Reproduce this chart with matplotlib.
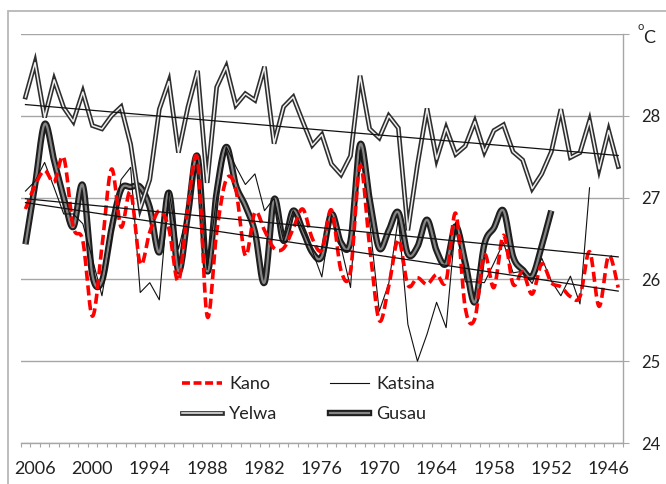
import numpy as np
import matplotlib
matplotlib.use('Agg')
import matplotlib.pyplot as plt
from matplotlib.lines import Line2D
from matplotlib.patches import Rectangle
from matplotlib.legend_handler import HandlerTuple

# years run from 2007 (left) back to 1945 (right)
years = list(range(2007, 1944, -1))
label_years = [2006, 2000, 1994, 1988, 1982, 1976, 1970, 1964, 1958, 1952, 1946]
y_ticks = [24, 25, 26, 27, 28, 29]
y_labels = ['24', '25', '26', '27', '28', '']

kano = [26.86, 27.15, 27.33, 27.19, 27.49, 26.64, 26.47, 25.55, 26.40, 27.35,
        26.64, 27.07, 26.19, 26.58, 26.84, 26.62, 25.98, 26.90, 27.46, 25.55,
        26.58, 27.22, 27.10, 26.29, 26.82, 26.60, 26.38, 26.38, 26.62, 26.86,
        26.50, 26.36, 26.85, 26.11, 26.10, 27.39, 26.40, 25.50, 25.92, 26.49,
        25.93, 26.02, 25.94, 26.06, 25.98, 26.81, 25.65, 25.52, 26.30, 25.90,
        26.54, 25.94, 26.09, 25.82, 26.19, 25.96, 25.91, 25.79, 25.79, 26.34,
        25.67, 26.29, 25.90]

# Katsina stops in 1948
katsina = [27.08, 27.20, 27.43, 27.12, 26.80, 26.80, 26.68, 26.25, 25.80, 26.50,
           27.22, 27.37, 25.84, 25.96, 25.75, 27.09, 26.37, 26.85, 27.48, 26.12,
           27.00, 27.62, 27.38, 27.16, 27.29, 26.84, 26.99, 26.47, 26.84, 26.62,
           26.35, 26.03, 26.80, 26.40, 25.90, 27.58, 26.70, 25.61, 25.95, 26.75,
           25.45, 25.00, 25.33, 25.72, 25.41, 26.70, 25.97, 25.97, 25.96, 26.20,
           26.45, 26.08, 26.10, 25.95, 26.26, 25.98, 25.80, 26.04, 25.70, 27.12]

yelwa = [28.23, 28.65, 27.98, 28.44, 28.10, 27.93, 28.29, 27.88, 27.84, 28.00,
         28.11, 27.65, 26.87, 27.22, 28.08, 28.42, 27.55, 28.11, 28.55, 27.18,
         28.35, 28.60, 28.13, 28.27, 28.19, 28.60, 27.66, 28.11, 28.23, 27.93,
         27.64, 27.77, 27.41, 27.28, 27.51, 28.49, 27.84, 27.73, 28.00, 27.85,
         26.60, 27.40, 28.09, 27.47, 27.85, 27.53, 27.63, 27.93, 27.56, 27.82,
         27.89, 27.56, 27.46, 27.11, 27.29, 27.56, 28.08, 27.49, 27.55, 27.94,
         27.35, 27.82, 27.38]

# Gusau stops in 1952
gusau = [26.43, 27.15, 27.90, 27.45, 27.00, 26.64, 27.15, 26.05, 25.98, 26.62,
         27.10, 27.13, 27.13, 26.88, 26.33, 27.06, 26.10, 26.80, 27.50, 26.10,
         27.07, 27.62, 27.15, 26.90, 26.58, 25.96, 26.98, 26.47, 26.84, 26.60,
         26.33, 26.28, 26.80, 26.45, 26.47, 27.65, 26.98, 26.38, 26.60, 26.82,
         26.31, 26.40, 26.73, 26.35, 26.19, 26.65, 26.21, 25.72, 26.43, 26.63,
         26.84, 26.28, 26.12, 26.04, 26.41, 26.84]


def smooth(x, y, n=14):
    # bezier smoothing through every point, like a spreadsheet "smoothed line"
    x = np.asarray(x, float)
    y = np.asarray(y, float)
    px = np.concatenate([[x[0]], x, [x[-1]]])
    py = np.concatenate([[y[0]], y, [y[-1]]])
    t = np.linspace(0, 1, n, endpoint=False)[None, :]
    out_x, out_y = [], []
    for p, out in ((px, out_x), (py, out_y)):
        p0, p1, p2, p3 = p[:-3, None], p[1:-2, None], p[2:-1, None], p[3:, None]
        c1 = p1 + (p2 - p0) / 6
        c2 = p2 - (p3 - p1) / 6
        b = ((1 - t) ** 3 * p1 + 3 * (1 - t) ** 2 * t * c1
             + 3 * (1 - t) * t ** 2 * c2 + t ** 3 * p2)
        out.append(np.append(b.ravel(), p[-2]))
    return out_x[0], out_y[0]


def trend(x, y):
    k, b = np.polyfit(x, y, 1)
    xs = np.array([years[0], years[-1]], float)
    return xs, k * xs + b


plt.rcParams['font.family'] = ['Lato', 'DejaVu Sans']
GRID = '#a6a6a6'
TXT = '#222222'

fig = plt.figure(figsize=(6.66, 4.84), dpi=100)
W, H = 666, 484
ax = fig.add_axes([20.7 / W, 1 - 443 / H, (623 - 20.7) / W, (443 - 34) / H])

# chart area frame
fig.add_artist(Rectangle((8 / W, -0.1), 1.2, 1.1 - 11 / H, transform=fig.transFigure,
                         fill=False, edgecolor='#b8b8b8', lw=1.3, clip_on=False))

ax.set_xlim(2007.5, 1944.5)
ax.set_ylim(24, 29)

for v in y_ticks:
    ax.axhline(v, color=GRID, lw=1.0, zorder=1)

yr_g = years[:len(gusau)]
yr_k = years[:len(katsina)]

gx, gy = smooth(yr_g, gusau)
ax.plot(gx, gy, color='#1e1e1e', lw=4.6, solid_capstyle='butt', zorder=2)
ax.plot(gx, gy, color='#858585', lw=1.6, solid_capstyle='butt', zorder=2.05)

ax.plot(years, yelwa, color='#2e2e2e', lw=3.4, solid_joinstyle='miter', zorder=2.1)
ax.plot(years, yelwa, color='#f0f0f0', lw=1.1, zorder=2.15)

ax.plot(yr_k, katsina, color='#111111', lw=0.8, zorder=2.2)

kx, ky = smooth(years, kano)
ax.plot(kx, ky, color='#ff0000', lw=2.6, dashes=(2.8, 1.3), zorder=2.3)

for yr, vals in ((years, yelwa), (yr_g, gusau), (years, kano)):
    tx, ty = trend(yr, vals)
    ax.plot(tx, ty, color='#111111', lw=0.9, zorder=3)

# axes styling
for s in ('left', 'top'):
    ax.spines[s].set_visible(False)
ax.spines['right'].set_color(GRID)
ax.spines['bottom'].set_color(GRID)
ax.spines['right'].set_linewidth(1.0)
ax.spines['bottom'].set_linewidth(1.0)

ax.yaxis.tick_right()
ax.set_yticks(y_ticks)
ax.set_yticklabels(y_labels)
ax.tick_params(axis='y', direction='out', length=4.5, color=GRID, pad=8.5,
               labelsize=12, labelcolor=TXT)

bounds = np.arange(2007.5, 1944.0, -1)
ax.set_xticks(bounds)
ax.set_xticklabels([])
ax.tick_params(axis='x', which='major', direction='out', length=3, color=GRID)
ax.set_xticks(label_years, minor=True)
ax.set_xticklabels([str(v) for v in label_years], minor=True)
ax.tick_params(axis='x', which='minor', length=0, pad=13, labelsize=13,
               labelcolor=TXT)

fig.text(641 / W, 1 - 27 / H, 'o', fontsize=8, color=TXT, ha='center', va='center')
fig.text(649 / W, 1 - 38 / H, 'C', fontsize=13, color=TXT, ha='center', va='center')

# legend
h_kano = Line2D([], [], color='#ff0000', lw=2.6, dashes=(2.2, 1.0))
h_kats = Line2D([], [], color='#111111', lw=0.8)
h_yel = (Line2D([], [], color='#2e2e2e', lw=3.4), Line2D([], [], color='#f0f0f0', lw=1.1))
h_gus = (Line2D([], [], color='#1e1e1e', lw=4.6), Line2D([], [], color='#858585', lw=1.6))
leg = ax.legend([h_kano, h_yel, h_kats, h_gus], ['Kano', 'Yelwa', 'Katsina', 'Gusau'],
                ncol=2, loc='upper left', bbox_to_anchor=(182 / W, 1 - 376 / H),
                bbox_transform=fig.transFigure, frameon=False, fontsize=13,
                handlelength=2.2, handletextpad=0.4, columnspacing=2.9,
                labelspacing=0.78, borderpad=0, borderaxespad=0,
                handler_map={tuple: HandlerTuple(ndivide=1)})
for t in leg.get_texts():
    t.set_color(TXT)

fig.savefig('out.png', dpi=100)
